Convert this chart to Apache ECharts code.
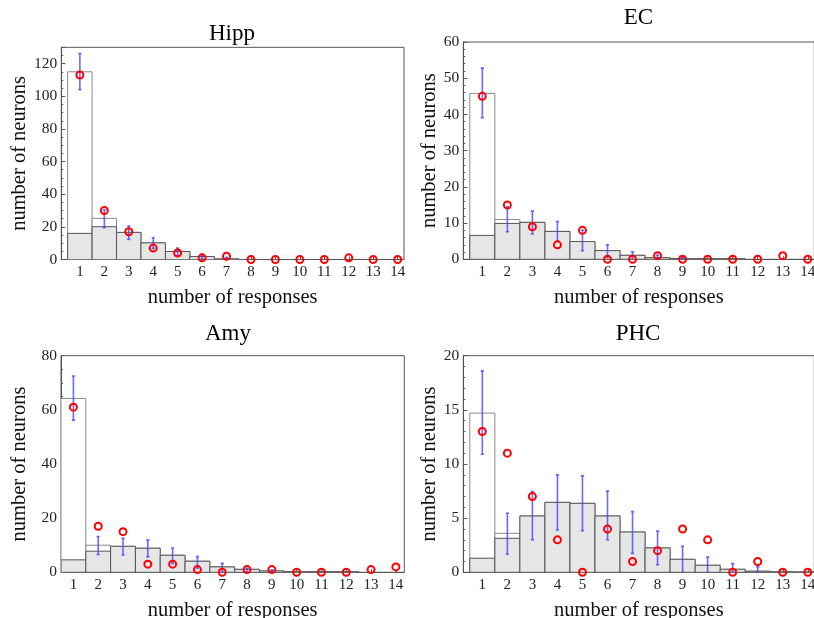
<!DOCTYPE html>
<html><head><meta charset="utf-8">
<script src="https://cdn.jsdelivr.net/npm/echarts@6/dist/echarts.min.js"></script>
<style>html,body{margin:0;padding:0;background:#fff}#c{width:814px;height:618px}</style>
</head><body><div id="c"></div>
<script>
// ---------- data ----------
const responses = [1,2,3,4,5,6,7,8,9,10,11,12,13,14];

const hippOpen     = [115, 25.2, 16.6, 10.2, 4.9, 1.8, 0.4, 0, 0, 0, 0, 0, 0, 0];
const hippFilled   = [16, 20.1, 16.6, 10.2, 4.9, 1.8, 0.4, 0, 0, 0, 0, 0, 0, 0];
const hippErrLow   = [104, 19.5, 12.3, 6.8, 2.2, 0.4, 0, 0, 0, 0, 0, 0, 0, 0];
const hippErrHigh  = [126.2, 30.3, 20.5, 13.3, 7, 3, 1.2, 0, 0, 0, 0, 0, 0, 0];
const hippObserved = [113, 30, 17, 7, 4, 1, 2, 0, 0, 0, 0, 1, 0, 0];

const ecOpen     = [45.8, 11, 10.2, 7.7, 4.9, 2.4, 1.1, 0.45, 0.15, 0.15, 0.15, 0, 0, 0];
const ecFilled   = [6.6, 9.9, 10.2, 7.7, 4.9, 2.4, 1.1, 0.45, 0.15, 0.15, 0.15, 0, 0, 0];
const ecErrLow   = [39.1, 7.6, 7, 5, 2.4, 0.5, 0, 0, 0, 0, 0, 0, 0, 0];
const ecErrHigh  = [52.8, 14.5, 13.3, 10.4, 8.1, 4, 2.1, 1.2, 0.5, 0, 0, 0, 0, 0];
const ecObserved = [45, 15, 9, 4, 8, 0, 0, 1, 0, 0, 0, 0, 1, 0];

const amyOpen     = [64.2, 10, 9.6, 8.9, 6.3, 4.1, 2.0, 1.1, 0.5, 0.2, 0.2, 0.2, 0, 0];
const amyFilled   = [4.6, 7.8, 9.6, 8.9, 6.3, 4.1, 2.0, 1.1, 0.5, 0.2, 0.2, 0.2, 0, 0];
const amyErrLow   = [56.2, 6.6, 6.4, 5.7, 3.3, 1.5, 0, 0, 0, 0, 0, 0, 0, 0];
const amyErrHigh  = [72.5, 13.2, 12.6, 11.9, 9, 5.8, 3.3, 1.5, 0.8, 0, 0, 0, 0, 0];
const amyObserved = [61, 17, 15, 3, 3, 1, 0, 1, 1, 0, 0, 0, 1, 2];

const phcOpen     = [14.7, 3.6, 5.2, 6.46, 6.37, 5.2, 3.72, 2.25, 1.2, 0.65, 0.28, 0.1, 0.04, 0.02];
const phcFilled   = [1.3, 3.14, 5.2, 6.46, 6.37, 5.2, 3.72, 2.25, 1.2, 0.65, 0.28, 0.1, 0.04, 0.02];
const phcErrLow   = [10.9, 1.66, 3.0, 3.9, 3.85, 3.0, 1.75, 0.7, 0, 0, 0, 0, 0, 0];
const phcErrHigh  = [18.6, 5.45, 7.45, 9, 8.9, 7.5, 5.6, 3.8, 2.4, 1.4, 0.8, 0.5, 0, 0];
const phcObserved = [13, 11, 7, 3, 0, 4, 1, 2, 4, 3, 0, 1, 0, 0];

const panelTitles = ['Hipp', 'EC', 'Amy', 'PHC'];
const yMax = [130, 60, 80, 20];
const yStep = [20, 10, 20, 5];
const yMinorSplit = [4, 5, 4, 5];
const xLabel = 'number of responses';
const yLabel = 'number of neurons';

// ---------- layout ----------
const layout = [
  {grid:{left:61.3, top:47.3, width:342.7, height:212.2}, xMin:0.24, xMax:14.26, title:[232, 34], yGap:31},
  {grid:{left:463.3, top:42, width:351, height:217.3}, xMin:0.24, xMax:14.26, title:[638.5, 18], yGap:23},
  {grid:{left:61, top:355.7, width:343.3, height:216.6}, xMin:0.5, xMax:14.34, title:[228, 333.5], yGap:31},
  {grid:{left:463.3, top:355.7, width:351, height:216.6}, xMin:0.24, xMax:14.26, title:[638, 333.5], yGap:23}
];
const panelData = [
  [hippOpen, hippFilled, hippErrLow, hippErrHigh, hippObserved],
  [ecOpen, ecFilled, ecErrLow, ecErrHigh, ecObserved],
  [amyOpen, amyFilled, amyErrLow, amyErrHigh, amyObserved],
  [phcOpen, phcFilled, phcErrLow, phcErrHigh, phcObserved]
];

const serif = '"Liberation Serif", "DejaVu Serif", serif';
const frameColor = '#555';

function barRender(fill, stroke) {
  return function (params, api) {
    const x = api.value(0), v = api.value(1);
    if (!(v > 0)) return null;
    const p0 = api.coord([x - 0.5, 0]);
    const p1 = api.coord([x + 0.5, v]);
    return {
      type: 'rect',
      shape: {x: p0[0], y: p1[1], width: p1[0] - p0[0], height: p0[1] - p1[1]},
      style: {fill: fill, stroke: stroke, lineWidth: 1}
    };
  };
}
function errRender(params, api) {
  const x = api.value(0), lo = api.value(1), hi = api.value(2);
  if (!(hi > lo)) return null;
  const a = api.coord([x, lo]), b = api.coord([x, hi]);
  const st = {stroke: 'rgba(70,70,255,0.8)', lineWidth: 1.6};
  const cap = 1.6;
  return {type: 'group', children: [
    {type: 'line', shape: {x1: a[0], y1: a[1], x2: b[0], y2: b[1]}, style: st},
    {type: 'line', shape: {x1: a[0] - cap, y1: a[1], x2: a[0] + cap, y2: a[1]}, style: st},
    {type: 'line', shape: {x1: b[0] - cap, y1: b[1], x2: b[0] + cap, y2: b[1]}, style: st}
  ]};
}

const grids = [], xAxes = [], yAxes = [], series = [], graphics = [];
layout.forEach(function (L, i) {
  grids.push(Object.assign({show: true, borderColor: frameColor, borderWidth: 1, backgroundColor: 'transparent',
    containLabel: false, outerBoundsMode: 'none'}, L.grid));
  xAxes.push({
    type: 'value', gridIndex: i, min: L.xMin, max: L.xMax,
    name: xLabel, nameLocation: 'middle', nameGap: 28,
    nameTextStyle: {fontFamily: serif, fontSize: 20.5, color: '#111'},
    axisLine: {show: true, onZero: false, lineStyle: {color: frameColor}},
    axisTick: {show: true, inside: true, length: 3, customValues: responses, lineStyle: {color: frameColor}},
    axisLabel: {customValues: responses, fontFamily: serif, fontSize: 15, color: '#222', margin: 5},
    splitLine: {show: false}
  });
  yAxes.push({
    type: 'value', gridIndex: i, min: 0, max: yMax[i], interval: yStep[i],
    name: yLabel, nameLocation: 'middle', nameGap: L.yGap,
    nameTextStyle: {fontFamily: serif, fontSize: 20.5, color: '#111'},
    axisLine: {show: true, lineStyle: {color: frameColor}},
    axisTick: {show: true, inside: true, length: 4, lineStyle: {color: frameColor}},
    minorTick: {show: true, splitNumber: yMinorSplit[i], length: 2, lineStyle: {color: frameColor}},
    axisLabel: {fontFamily: serif, fontSize: 15.5, color: '#222', margin: 4,
      formatter: function (v) { return (v % yStep[i] === 0) ? String(v) : ''; }},
    splitLine: {show: false}
  });
  const d = panelData[i];
  series.push({
    type: 'custom', xAxisIndex: i, yAxisIndex: i, clip: true, z: 2,
    renderItem: barRender('#ffffff', '#8a8a8a'),
    data: responses.map(function (r, k) { return [r, d[0][k]]; })
  });
  series.push({
    type: 'custom', xAxisIndex: i, yAxisIndex: i, clip: true, z: 3,
    renderItem: barRender('#e6e6e6', '#555555'),
    data: responses.map(function (r, k) { return [r, d[1][k]]; })
  });
  series.push({
    type: 'custom', xAxisIndex: i, yAxisIndex: i, clip: true, z: 4,
    renderItem: errRender,
    data: responses.map(function (r, k) { return [r, d[2][k], d[3][k]]; })
  });
  series.push({
    type: 'scatter', xAxisIndex: i, yAxisIndex: i, clip: true, z: 5,
    symbol: 'circle', symbolSize: 7,
    itemStyle: {color: 'rgba(0,0,0,0)', borderColor: '#ff0000', borderWidth: 2, opacity: 1},
    data: responses.map(function (r, k) { return [r, d[4][k]]; })
  });
  graphics.push({
    type: 'text', x: L.title[0], y: L.title[1],
    style: {text: panelTitles[i], font: '23px ' + serif, fill: '#000', textAlign: 'center', textVerticalAlign: 'middle'}
  });
});

const chart = echarts.init(document.getElementById('c'), null, {renderer: 'canvas'});
chart.setOption({
  animation: false,
  backgroundColor: '#ffffff',
  grid: grids, xAxis: xAxes, yAxis: yAxes, series: series,
  graphic: graphics
});
</script>
</body></html>
